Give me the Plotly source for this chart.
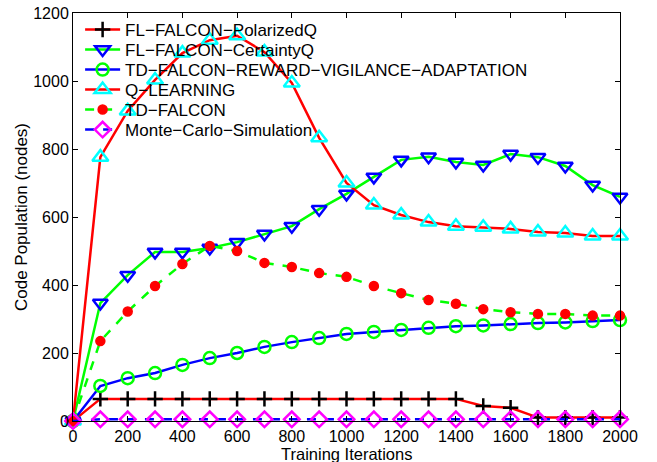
import plotly.graph_objects as go

iterations = [0, 100, 200, 300, 400, 500, 600, 700, 800, 900, 1000,
              1100, 1200, 1300, 1400, 1500, 1600, 1700, 1800, 1900, 2000]

polarized_q = [0, 65, 65, 65, 65, 65, 65, 65, 65, 65, 65,
               65, 65, 65, 65, 44, 39, 10, 10, 10, 10]
certainty_q = [0, 347, 429, 497, 497, 509, 526, 550, 573, 623, 668,
               718, 768, 777, 762, 753, 785, 776, 750, 694, 659]
td_rva = [0, 103, 126, 141, 165, 185, 200, 218, 232, 244, 256,
          262, 268, 274, 279, 281, 285, 288, 290, 294, 297]
q_learning = [0, 776, 912, 1003, 1082, 1120, 1133, 1085, 994, 833, 700,
              635, 606, 585, 573, 570, 565, 556, 553, 544, 544]
td_falcon = [0, 235, 322, 397, 462, 515, 500, 465, 453, 435, 424,
             397, 376, 356, 345, 329, 320, 315, 315, 310, 310]
monte_carlo = [0, 5, 5, 5, 5, 5, 5, 5, 5, 5, 5,
               5, 5, 5, 5, 5, 5, 5, 5, 5, 5]

names = ["FL\u2212FALCON\u2212PolarizedQ",
         "FL\u2212FALCON\u2212CertaintyQ",
         "TD\u2212FALCON\u2212REWARD\u2212VIGILANCE\u2212ADAPTATION",
         "Q\u2212LEARNING",
         "TD\u2212FALCON",
         "Monte\u2212Carlo\u2212Simulation"]

x_title = "Training Iterations"
y_title = "Code Population (nodes)"

x_ticks = list(range(0, 2001, 200))
y_ticks = list(range(0, 1201, 200))

FONT = "Liberation Sans, Arial, Helvetica"

fig = go.Figure()

series = [
    (polarized_q, names[0], dict(color="red", width=2.5, dash="solid"),
     dict(symbol="cross-thin", size=11, color="black", line=dict(color="black", width=2.5))),
    (certainty_q, names[1], dict(color="#00ff00", width=2.5, dash="solid"),
     dict(symbol="triangle-down-open", size=13, color="blue", line=dict(color="blue", width=2.5))),
    (td_rva, names[2], dict(color="blue", width=2.5, dash="solid"),
     dict(symbol="circle-open", size=12, color="#00ff00", line=dict(color="#00ff00", width=2.5))),
    (q_learning, names[3], dict(color="red", width=2.5, dash="solid"),
     dict(symbol="triangle-up-open", size=14, color="cyan", line=dict(color="cyan", width=2.5))),
    (td_falcon, names[4], dict(color="#00ff00", width=2.5, dash="dash"),
     dict(symbol="circle", size=9, color="red", line=dict(color="red", width=1.5))),
    (monte_carlo, names[5], dict(color="blue", width=2.5, dash="dash"),
     dict(symbol="diamond-open", size=12, color="magenta", line=dict(color="magenta", width=2.5))),
]

legend_ids = ["legend", "legend2", "legend3", "legend4", "legend5", "legend6"]

for (ys, nm, ln, mk), lid in zip(series, legend_ids):
    fig.add_trace(go.Scatter(x=iterations, y=ys, name=nm, mode="lines+markers",
                             line=ln, marker=mk, cliponaxis=False, legend=lid))

axis_common = dict(showline=True, linecolor="black", linewidth=1, mirror="ticks",
                   ticks="inside", ticklen=5, tickcolor="black", showgrid=False,
                   zeroline=False, automargin=False,
                   tickfont=dict(family=FONT, size=16, color="black"))

fig.update_xaxes(range=[0, 2000], tickvals=x_ticks, ticktext=[str(v) for v in x_ticks],
                 ticklabelstandoff=1,
                 **axis_common)
fig.update_yaxes(range=[0, 1200], tickvals=y_ticks, ticktext=[str(v) for v in y_ticks],
                 title=dict(text=y_title, standoff=1,
                            font=dict(family=FONT, size=17, color="black")),
                 **axis_common)

# plot area spans y=13..421 in the 462px-high picture
plot_top, plot_bottom = 13, 421
span = plot_bottom - plot_top

# x-axis title placed as paper-anchored text below the tick labels
fig.add_annotation(text=x_title, xref="paper", yref="paper", x=0.5,
                   y=(plot_bottom - 454) / span, xanchor="center", yanchor="middle",
                   showarrow=False, font=dict(family=FONT, size=16.5, color="black"))

row_centres = [30, 50, 70, 90, 110, 130]

layout_legends = {}
for lid, yc in zip(legend_ids, row_centres):
    layout_legends[lid] = dict(
        x=0.013, xanchor="left",
        y=(plot_bottom - yc) / span, yanchor="middle",
        bgcolor="rgba(0,0,0,0)", borderwidth=0,
        font=dict(family=FONT, size=17, color="black"),
        itemwidth=35, tracegroupgap=0,
    )

fig.update_layout(
    width=657, height=462,
    margin=dict(l=73, r=37, t=13, b=41, autoexpand=False),
    paper_bgcolor="white", plot_bgcolor="white",
    font=dict(family=FONT, size=16, color="black"),
    showlegend=True,
    **layout_legends,
)

fig.write_html("out.html")
